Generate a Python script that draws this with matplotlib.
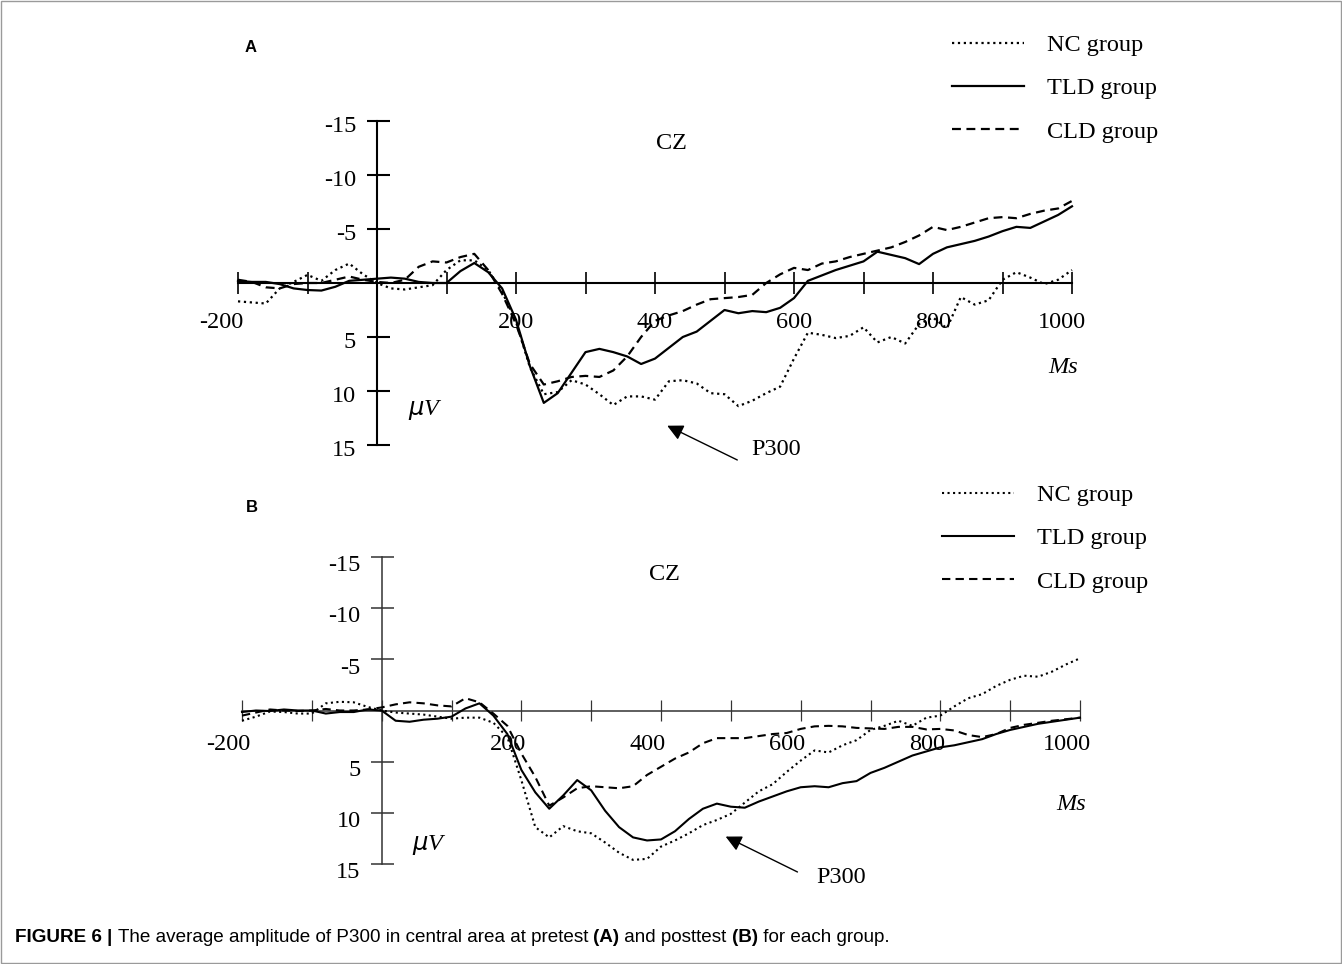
import numpy as np
import matplotlib
matplotlib.use("Agg")
import matplotlib.pyplot as plt
from matplotlib import font_manager
from matplotlib.patches import Rectangle

# time axis (ms) and grand averages at Cz (uV, negative up)
times = np.arange(-200, 1001, 20)

nc_pre = [1.7, 1.8, 1.9, 0.5, -0.1, -0.75, -0.2, -1.2, -1.8, -0.8,
          0.0, 0.5, 0.6, 0.4, 0.2, -1.2, -2.1, -2.1, -1.2, 0.8,
          3.6, 7.8, 10.3, 10.1, 9.0, 9.4, 10.3, 11.3, 10.5, 10.5,
          10.8, 9.1, 9.0, 9.3, 10.2, 10.3, 11.4, 10.9, 10.2, 9.6,
          7.0, 4.6, 4.8, 5.1, 4.9, 4.1, 5.5, 5.0, 5.6, 3.8,
          3.2, 4.2, 1.3, 2.0, 1.6, -0.3, -1.0, -0.5, 0.1, -0.3,
          -1.2]
tld_pre = [-0.2, -0.1, -0.1, 0.1, 0.5, 0.65, 0.7, 0.35, -0.2, -0.3,
           -0.4, -0.5, -0.4, -0.1, 0.0, 0.0, -1.1, -1.85, -1.0, 0.5,
           3.4, 7.7, 11.1, 10.2, 8.3, 6.4, 6.1, 6.4, 6.8, 7.5,
           7.0, 6.0, 5.0, 4.5, 3.5, 2.5, 2.8, 2.6, 2.7, 2.3,
           1.4, -0.2, -0.7, -1.2, -1.6, -2.0, -2.9, -2.6, -2.3, -1.75,
           -2.7, -3.3, -3.6, -3.9, -4.3, -4.8, -5.2, -5.1, -5.7, -6.3,
           -7.1]
cld_pre = [-0.3, -0.1, 0.4, 0.5, 0.1, 0.0, 0.0, -0.3, -0.6, -0.3,
           -0.1, 0.0, -0.3, -1.5, -2.0, -1.9, -2.4, -2.7, -1.2, 1.0,
           3.8, 7.5, 9.4, 9.1, 8.7, 8.6, 8.7, 8.1, 6.8, 5.0,
           3.5, 3.0, 2.6, 2.0, 1.5, 1.4, 1.3, 1.1, 0.0, -0.8,
           -1.4, -1.2, -1.8, -2.0, -2.4, -2.7, -3.0, -3.3, -3.8, -4.4,
           -5.2, -4.9, -5.2, -5.6, -6.0, -6.1, -6.0, -6.4, -6.7, -6.9,
           -7.6]

nc_post = [1.0, 0.6, 0.1, 0.15, 0.3, 0.3, -0.7, -0.85, -0.8, -0.35,
           0.0, 0.2, 0.3, 0.4, 0.6, 0.8, 0.7, 0.7, 1.2, 2.6,
           6.8, 11.4, 12.4, 11.3, 11.8, 12.0, 12.9, 13.9, 14.6, 14.5,
           13.3, 12.7, 12.0, 11.2, 10.7, 10.1, 9.0, 7.9, 7.2, 6.0,
           4.9, 3.9, 4.1, 3.4, 2.9, 1.9, 1.5, 1.0, 1.5, 0.7,
           0.5, -0.4, -1.2, -1.6, -2.4, -3.0, -3.4, -3.3, -3.8, -4.5,
           -5.1]
tld_post = [0.15, 0.0, 0.05, -0.1, 0.0, 0.0, 0.3, 0.15, 0.15, -0.1,
            0.0, 1.0, 1.1, 0.9, 0.8, 0.6, -0.2, -0.7, 0.5, 2.3,
            5.8, 8.0, 9.6, 8.3, 6.8, 7.8, 9.8, 11.4, 12.4, 12.7,
            12.6, 11.8, 10.6, 9.6, 9.1, 9.4, 9.5, 8.9, 8.4, 7.9,
            7.5, 7.4, 7.5, 7.1, 6.9, 6.1, 5.6, 5.0, 4.4, 4.0,
            3.6, 3.4, 3.1, 2.8, 2.3, 1.9, 1.6, 1.3, 1.1, 0.9,
            0.7]
cld_post = [0.5, 0.2, -0.1, 0.0, 0.05, 0.0, -0.15, 0.0, 0.0, -0.1,
            -0.3, -0.6, -0.8, -0.7, -0.5, -0.4, -1.2, -0.8, 0.3, 1.5,
            4.2, 6.5, 9.3, 8.5, 7.6, 7.4, 7.5, 7.6, 7.4, 6.3,
            5.5, 4.7, 4.1, 3.2, 2.7, 2.7, 2.7, 2.5, 2.3, 2.2,
            1.8, 1.55, 1.5, 1.55, 1.7, 1.75, 1.8, 1.6, 1.6, 1.85,
            1.8, 1.95, 2.4, 2.6, 2.3, 1.7, 1.4, 1.2, 1.0, 0.85,
            0.7]

group_labels = ['NC group', 'TLD group', 'CLD group']
x_ticks = np.arange(-200, 1001, 100)
x_labels = [-200, 200, 400, 600, 800, 1000]
y_ticks = [-15, -10, -5, 5, 10, 15]

W, H = 1342, 964
FS = 17.5
serif = 'Liberation Serif'
names = {f.name for f in font_manager.fontManager.ttflist}
cap_family = 'Liberation Sans Narrow' if 'Liberation Sans Narrow' in names else 'Liberation Sans'

fig = plt.figure(figsize=(W / 100, H / 100), dpi=100)


def px_box(left, right, top, bottom):
    # pixel box -> figure fraction [l, b, w, h]
    return [left / W, 1 - bottom / H, (right - left) / W, (bottom - top) / H]


def draw_panel(ax, nc, tld, cld, axis_lw, axis_color, curve_lw, lab_dx, lab_dy, xlab_dy):
    ax.set_xlim(-200, 1000)
    ax.set_ylim(15, -15)
    ax.axis('off')

    # hand-drawn style axes
    ax.plot([-200, 1000], [0, 0], color=axis_color, lw=axis_lw, clip_on=False)
    ax.plot([0, 0], [-15, 15], color=axis_color, lw=axis_lw, clip_on=False)
    ax.vlines(x_ticks, -1.05, 1.05, color=axis_color, lw=axis_lw * 0.8, clip_on=False)
    ax.hlines(y_ticks, -15, 18, color=axis_color, lw=axis_lw, clip_on=False)

    for v in y_ticks:
        ax.text(-30, v + lab_dy, str(v), ha='right', va='center',
                fontsize=FS, family=serif)
    for t in x_labels:
        dx = lab_dx
        if t == -200 and lab_dx == 0:
            dx = -24
        if t == 1000 and lab_dx == 0:
            dx = -15
        ax.text(t + dx, xlab_dy, str(t), ha='center', va='center',
                fontsize=FS, family=serif)

    l1, = ax.plot(times, nc, color='black', lw=curve_lw, ls=':', clip_on=False)
    l2, = ax.plot(times, tld, color='black', lw=curve_lw, ls='-', clip_on=False)
    l3, = ax.plot(times, cld, color='black', lw=curve_lw, ls=(0, (4, 2.5)), clip_on=False)
    return [l1, l2, l3]


def add_legend(ax, handles, left_px, top_px):
    ax.legend(handles, group_labels, loc='upper left',
              bbox_to_anchor=(left_px / W, 1 - top_px / H),
              bbox_transform=fig.transFigure, frameon=False, borderpad=0,
              borderaxespad=0, handlelength=2.95, handletextpad=0.95,
              labelspacing=0.88, prop=dict(family=serif, size=FS))


# ---- panel A (pretest)
axA = fig.add_axes(px_box(238, 1072, 121, 445))
hA = draw_panel(axA, nc_pre, tld_pre, cld_pre, 1.5, 'black', 1.6, 0, 0.55, 3.7)
axA.text(424, -12.9, 'CZ', ha='center', va='center', fontsize=FS, family=serif)
axA.text(987, 7.8, 'Ms', ha='center', va='center', fontsize=FS, family=serif, style='italic')
axA.text(69, 11.8, r'$\mu$V', ha='center', va='center', fontsize=FS, family=serif, style='italic')
axA.annotate('', xy=(414, 13.1), xytext=(522, 16.5), annotation_clip=False,
             arrowprops=dict(arrowstyle='-|>', color='black', lw=1, mutation_scale=24))
axA.text(574, 15.4, 'P300', ha='center', va='center', fontsize=FS, family=serif)
add_legend(axA, hA, 952, 34)

# ---- panel B (posttest)
axB = fig.add_axes(px_box(242, 1080, 557, 864))
hB = draw_panel(axB, nc_post, tld_post, cld_post, 1.1, '#333333', 1.5, -19, 0.85, 3.3)
axB.text(405, -13.3, 'CZ', ha='center', va='center', fontsize=FS, family=serif)
axB.text(988, 9.2, 'Ms', ha='center', va='center', fontsize=FS, family=serif, style='italic')
axB.text(69, 13.1, r'$\mu$V', ha='center', va='center', fontsize=FS, family=serif, style='italic')
axB.annotate('', xy=(489, 12.2), xytext=(599, 15.9), annotation_clip=False,
             arrowprops=dict(arrowstyle='-|>', color='black', lw=1, mutation_scale=24))
axB.text(658, 16.3, 'P300', ha='center', va='center', fontsize=FS, family=serif)
add_legend(axB, hB, 942, 484)

# panel letters
fig.text(251 / W, 1 - 47 / H, 'A', ha='center', va='center', fontsize=12,
         fontweight='bold', family='Liberation Sans')
fig.text(252 / W, 1 - 508 / H, 'B', ha='center', va='center', fontsize=12,
         fontweight='bold', family='Liberation Sans')

# caption with bold pieces
parts = [('FIGURE 6 | ', 'bold'),
         ('The average amplitude of P300 in central area at pretest ', 'normal'),
         ('(A)', 'bold'), (' and posttest ', 'normal'), ('(B)', 'bold'),
         (' for each group.', 'normal')]
renderer = fig.canvas.get_renderer()
x = 15 / W
for txt, wgt in parts:
    t = fig.text(x, 1 - 937 / H, txt, ha='left', va='center', fontsize=13.6,
                 fontweight=wgt, family=cap_family)
    x += t.get_window_extent(renderer).width / W

# light frame round the figure
fig.patches.append(Rectangle((1 / W, 1 / H), 1 - 2 / W, 1 - 2 / H, transform=fig.transFigure,
                             fill=False, edgecolor='#9a9a9a', lw=1))

fig.savefig('out.png', dpi=100)
